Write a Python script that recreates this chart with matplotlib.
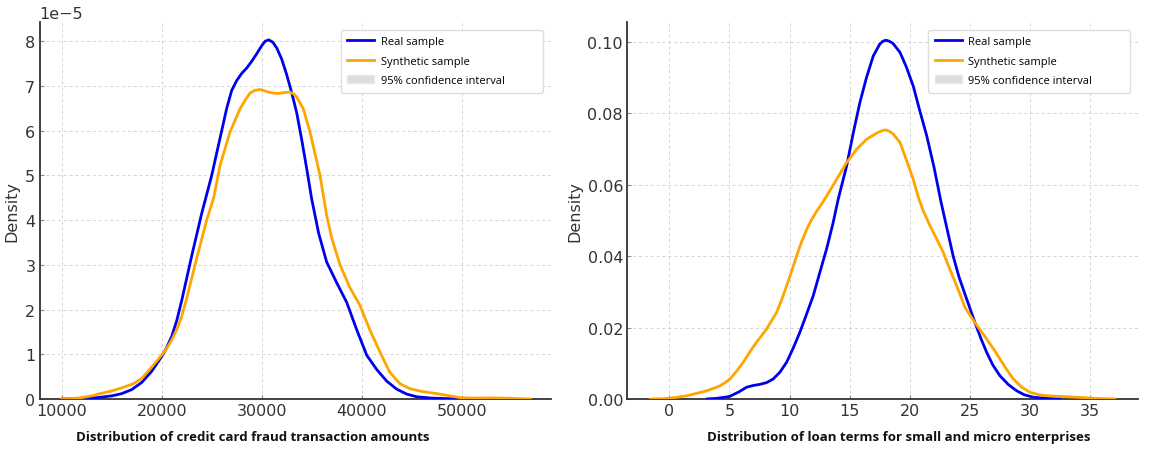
import numpy as np
import matplotlib
matplotlib.use('Agg')
import matplotlib.pyplot as plt
from matplotlib.patches import Patch

# ------------------------------------------------------------------
# data (KDE curves)
# ------------------------------------------------------------------
# left panel: transaction amounts, density in units of 1e-5
amt_real_x = [10000, 12000, 13500, 15000, 16000, 17000, 18000, 19000, 20000, 20500,
              21000, 21500, 22000, 22500, 23000, 24000, 25000, 26000, 26500, 27000,
              27500, 28000, 28500, 29000, 29500, 30000, 30350, 30700, 31100, 31500,
              32000, 32500, 33000, 33500, 34000, 34500, 35000, 35700, 36500, 37500,
              38500, 39500, 40500, 41500, 42500, 43500, 44500, 45500, 47000, 49000,
              50000]
amt_real_y = [0.0, 0.01, 0.03, 0.07, 0.12, 0.21, 0.37, 0.62, 0.95, 1.15,
              1.4, 1.75, 2.2, 2.7, 3.2, 4.15, 5.0, 6.0, 6.5, 6.9,
              7.12, 7.28, 7.4, 7.55, 7.72, 7.9, 8.0, 8.03, 7.98, 7.85,
              7.6, 7.25, 6.85, 6.4, 5.8, 5.15, 4.47, 3.7, 3.06, 2.6,
              2.16, 1.55, 0.98, 0.66, 0.40, 0.22, 0.11, 0.05, 0.02, 0.005,
              0.0]

amt_syn_x = [10000, 11000, 12000, 13000, 13830, 15000, 16000, 17160, 18000, 18830,
             19700, 20500, 21000, 21500, 22000, 22500, 23500, 24500, 25200, 25830,
             26830, 27830, 28400, 28830, 29300, 29830, 30300, 30700, 31200, 31660,
             32200, 32830, 33200, 33500, 34160, 34830, 35830, 36500, 37000, 37830,
             38800, 39830, 40800, 41830, 42800, 43830, 44830, 46000, 47500, 48830,
             49830, 51000, 53000, 55000, 56900]
amt_syn_y = [0.0, 0.01, 0.03, 0.07, 0.12, 0.18, 0.25, 0.34, 0.46, 0.67,
             0.9, 1.13, 1.32, 1.55, 1.85, 2.25, 3.15, 4.0, 4.5, 5.22,
             5.97, 6.49, 6.7, 6.84, 6.9, 6.92, 6.89, 6.86, 6.84, 6.83,
             6.85, 6.86, 6.82, 6.75, 6.49, 5.97, 5.0, 4.1, 3.6, 3.0,
             2.5, 2.09, 1.55, 1.05, 0.6, 0.34, 0.23, 0.17, 0.12, 0.07,
             0.03, 0.02, 0.025, 0.015, 0.0]

# right panel: loan terms
term_real_x = [3.1, 4.0, 5.0, 5.8, 6.43, 7.0, 7.54, 8.1, 8.64, 9.2,
               9.76, 10.3, 10.86, 11.4, 11.97, 12.5, 13.08, 13.6, 14.05, 14.75,
               15.3, 15.85, 16.4, 16.96, 17.5, 17.75, 18.01, 18.3, 18.6, 19.18,
               19.7, 20.28, 20.8, 21.4, 22.0, 22.6, 23.0, 23.6, 24.1, 24.72,
               25.41, 25.9, 26.38, 26.9, 27.49, 28.2, 28.88, 29.5, 30.26, 31.3,
               32.5]
term_real_y = [0.0, 0.0002, 0.0007, 0.0020, 0.0033, 0.0038, 0.0041, 0.0046, 0.0056, 0.0075,
               0.0103, 0.0142, 0.0187, 0.0236, 0.0289, 0.0352, 0.042, 0.049, 0.056, 0.0653,
               0.0745, 0.083, 0.090, 0.096, 0.0993, 0.1001, 0.1004, 0.1001, 0.0995, 0.097,
               0.093, 0.0876, 0.081, 0.0737, 0.065, 0.055, 0.049, 0.040, 0.034, 0.028,
               0.0214, 0.017, 0.0131, 0.0095, 0.0065, 0.0040, 0.0023, 0.0012, 0.0005, 0.0002,
               0.0]

term_syn_x = [-1.6, -0.5, 0.0, 0.7, 1.45, 2.3, 3.11, 3.7, 4.21, 4.65,
              5.05, 5.6, 6.15, 6.7, 7.26, 8.1, 8.93, 9.35, 9.76, 10.2,
              10.59, 11.0, 11.42, 11.8, 12.25, 12.94, 13.8, 14.75, 15.6, 16.41,
              17.3, 17.7, 18.01, 18.3, 18.6, 19.18, 19.7, 20.28, 20.7, 21.11,
              21.67, 22.2, 22.78, 23.3, 23.89, 24.6, 25.41, 26.38, 27.0, 27.49,
              28.0, 28.6, 29.3, 29.98, 30.7, 31.37, 32.6, 33.87, 35.3, 37.05]
term_syn_y = [0.0, 0.0001, 0.0002, 0.0005, 0.0009, 0.0016, 0.0023, 0.0030, 0.0037, 0.0046,
              0.0056, 0.0078, 0.0103, 0.0132, 0.0159, 0.0196, 0.0243, 0.0278, 0.0317, 0.0360,
              0.0401, 0.0440, 0.0474, 0.0500, 0.0525, 0.056, 0.0608, 0.0662, 0.0700, 0.0727,
              0.0745, 0.0751, 0.0753, 0.0749, 0.0742, 0.0718, 0.0670, 0.0615, 0.0565, 0.0527,
              0.0485, 0.045, 0.041, 0.0365, 0.0317, 0.0255, 0.0214, 0.0168, 0.0138, 0.0112,
              0.0085, 0.0056, 0.0033, 0.0019, 0.0012, 0.0009, 0.0007, 0.0005, 0.0002, 0.0]

amt_ticks  = [10000, 20000, 30000, 40000, 50000]
term_ticks = [0, 5, 10, 15, 20, 25, 30, 35]
density_ticks = [0.0, 0.02, 0.04, 0.06, 0.08, 0.10]

labels = ['Real sample', 'Synthetic sample', '95% confidence interval']
xlabels = ['Distribution of credit card fraud transaction amounts',
           'Distribution of loan terms for small and micro enterprises']

# ------------------------------------------------------------------
# figure
# ------------------------------------------------------------------
plt.rcParams['font.family'] = 'DejaVu Sans'
fig = plt.figure(figsize=(11.52, 4.56), dpi=100)

ax1 = fig.add_axes([0.0343, 0.1228, 0.4440, 0.8268])
ax2 = fig.add_axes([0.5445, 0.1228, 0.4436, 0.8268])

BLUE = '#0000ee'
ORANGE = '#ffa500'
line_kw = dict(lw=2.0, zorder=3, solid_joinstyle='round', solid_capstyle='round')

ax1.plot(amt_real_x, np.array(amt_real_y) * 1e-5, color=BLUE, **line_kw)
ax1.plot(amt_syn_x, np.array(amt_syn_y) * 1e-5, color=ORANGE, **line_kw)
ax1.set_xlim(7780, 58930)
ax1.set_ylim(0, 8.43e-5)
ax1.set_xticks(amt_ticks)

ax2.plot(term_real_x, term_real_y, color=BLUE, **line_kw)
ax2.plot(term_syn_x, term_syn_y, color=ORANGE, **line_kw)
ax2.set_xlim(-3.49, 38.99)
ax2.set_ylim(0, 0.1055)
ax2.set_xticks(term_ticks)
ax2.set_yticks(density_ticks)
ax2.set_yticklabels([f'{v:.2f}' for v in density_ticks])

# legend box placement in axes coords (measured on the reference)
legend_box = (0.589, 0.755, 0.395, 0.225)

for ax, xl, cx in [(ax1, xlabels[0], 253), (ax2, xlabels[1], 899)]:
    for s in ['top', 'right']:
        ax.spines[s].set_visible(False)
    for s in ['left', 'bottom']:
        ax.spines[s].set_color('#333333')
        ax.spines[s].set_linewidth(1.3)
    ax.grid(True, linestyle=(0, (3, 3)), color='#d4d4d4', lw=0.7, zorder=0)
    ax.tick_params(direction='in', length=3, width=0.8, color='#888888',
                   labelsize=11.5, labelcolor='#333333', pad=3)
    ax.set_ylabel('Density', fontsize=11.5, color='#333333')
    ax.yaxis.get_offset_text().set_fontsize(11.5)
    ax.yaxis.get_offset_text().set_color('#333333')

    handles = [plt.Line2D([], [], color=BLUE, lw=2.0),
               plt.Line2D([], [], color=ORANGE, lw=2.0),
               Patch(facecolor='#dddddd', edgecolor='#e8e8e8')]
    ax.legend(handles, labels, loc='upper left', bbox_to_anchor=legend_box, mode='expand',
              borderaxespad=0, prop={'family': 'Open Sans', 'size': 8},
              handlelength=2.4, handletextpad=0.6, labelspacing=0.75, borderpad=0.6,
              framealpha=1.0, edgecolor='#dddddd')

    fig.text(cx / 1152, (456 - 438) / 456, xl, ha='center', va='center',
             fontsize=9.5, fontweight='bold', family='Open Sans', color='#111111')

fig.savefig('out.png', dpi=100)
